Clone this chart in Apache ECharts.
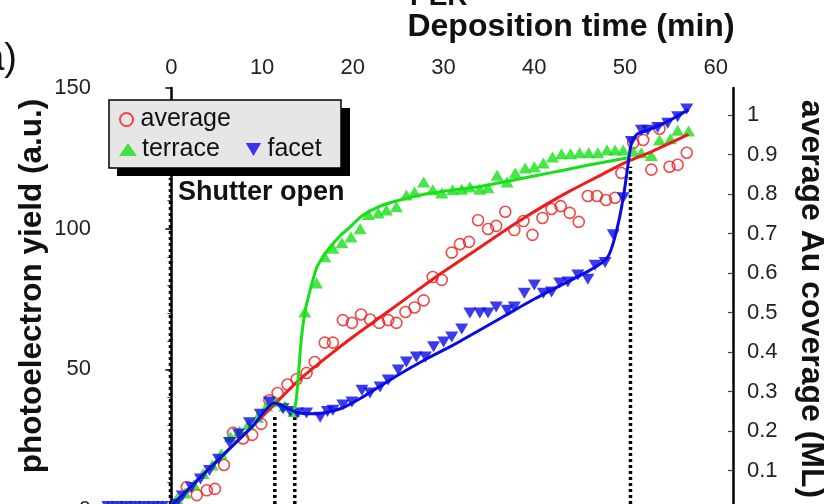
<!DOCTYPE html>
<html>
<head>
<meta charset="utf-8">
<script src="https://cdn.jsdelivr.net/npm/echarts@6/dist/echarts.min.js"></script>
<style>
  html, body { margin: 0; padding: 0; background: #fff; }
  #chart { width: 824px; height: 504px; }
</style>
</head>
<body>
<div id="chart"></div>
<script>
// ---- Measured series: deposition time (min) and photoelectron yield (a.u.) ----
const averageTime = [1.7, 2.8, 3.9, 4.8, 5.8, 6.8, 7.9, 8.9, 9.9, 10.8, 11.7, 12.8, 13.8, 14.9, 15.8, 16.9, 17.8, 18.9, 19.9, 20.9, 21.9, 22.9, 23.9, 24.8, 25.8, 26.8, 27.8, 28.8, 29.8, 30.9, 31.8, 32.8, 33.8, 34.9, 35.8, 36.8, 37.8, 38.8, 39.8, 40.9, 41.9, 42.9, 43.9, 44.9, 45.9, 46.9, 47.9, 48.9, 49.6, 50.9, 52.0, 52.9, 53.8, 54.9, 55.8, 56.8];
const averageYield = [8.2, 5.3, 7, 7.5, 16, 27.4, 25.4, 26.7, 30.6, 39, 41.6, 44.6, 46.5, 48.7, 52.6, 59.5, 59.5, 67.5, 66.5, 69.5, 67.7, 66.5, 67.5, 66.5, 70.4, 72, 74.5, 82.8, 81.8, 91.5, 94.5, 95.3, 103, 99.9, 101, 106, 99.5, 102.7, 97.8, 103.8, 107, 108, 105.6, 102.4, 111.6, 111.6, 110.2, 111, 119.8, 130.5, 131.5, 121, 135.5, 122, 122.7, 127];

const terraceTime = [-7, -6, -5, -4, -3, -2, -1, 0.6, 1.5, 2.5, 3.5, 4.5, 5.5, 6.5, 7.5, 8.5, 9.5, 10.5, 11.5, 12.5, 13.5, 14.7, 16, 16.9, 17.8, 18.8, 19.8, 20.8, 21.7, 22.8, 23.7, 24.8, 25.9, 26.8, 27.8, 28.8, 29.8, 31, 32, 32.9, 34, 34.9, 35.9, 37, 37.9, 39, 40, 41, 42, 43, 44, 45, 46, 47, 48, 48.9, 49.8, 50.9, 51.8, 52.9, 53.8, 55, 55.8, 57];
const terraceYield = [1.5, 1.5, 1.5, 1.5, 1.5, 1.5, 1.5, 4, 6, 9, 13, 16, 20, 26, 28, 30.5, 33, 37, 38.5, 37, 35, 70.4, 80.7, 90, 93, 95, 97, 100, 105, 105.6, 106.6, 107.8, 112, 113, 116.6, 113.8, 112.7, 113.8, 114, 114.8, 114, 114.5, 119, 116.6, 119.8, 121.6, 122, 123.3, 125.5, 126.6, 126.6, 127, 127, 127, 128, 128, 128, 127.5, 127, 126, 131.5, 132, 135, 134.7];

const facetTime = [-7, -6, -5, -4, -3, -2, -1, 0.5, 1.2, 2.2, 3.2, 4.2, 5.2, 6.4, 7.4, 8.6, 9.8, 10.8, 12.3, 13.1, 13.9, 14.9, 16.4, 17.2, 17.8, 18.9, 19.9, 21, 21.9, 23, 23.9, 25, 25.9, 27, 28, 28.9, 30, 30.9, 32, 32.9, 34, 34.9, 35.8, 37, 37.8, 38.9, 40, 41, 41.9, 42.8, 43.7, 44.8, 45.9, 46.7, 47.8, 48.7, 49.8, 50.7, 51.8, 52.5, 53.6, 54.7, 55.8, 56.8];
const facetYield = [1.2, 1.2, 1.2, 1.2, 1.2, 1.2, 1.2, 2, 5, 8, 11, 14, 18, 24, 27, 31, 34, 38.4, 36, 35, 34.5, 34.5, 33, 35, 35.5, 37.3, 38.4, 42.6, 41.6, 43.7, 46.2, 49.8, 52.6, 54.4, 54.4, 58, 59.7, 61.5, 64.3, 70, 70, 70, 72.2, 71, 72.2, 77, 80, 77, 77.5, 80.7, 81, 83.5, 82, 87, 88, 97.8, 111, 131, 135, 135, 136, 137.5, 139.8, 142.5];

// ---- Fitted curves ----
const averageFitTime = [0, 3, 6, 9, 11.5, 14, 17, 20, 23, 26, 29, 32, 35, 38, 41, 44, 47, 50, 53, 57];
const averageFitYield = [1.5, 11, 20.5, 30, 38, 46, 54, 61.5, 68.5, 75.5, 82.5, 89, 95.5, 102, 108, 113.5, 118.5, 123.5, 127.5, 133.5];

const terraceFitTime = [0, 3, 6, 9, 11.5, 12.5, 13.3, 13.7, 14.0, 14.3, 14.7, 15.2, 16, 16.7, 17.5, 18.6, 19.5, 21, 23, 25, 28, 31, 34, 38, 42, 46, 50.5];
const terraceFitYield = [1.5, 11, 20.5, 30, 38, 37, 35, 38, 48, 60, 70, 77, 86, 90, 93.5, 97.5, 100, 104.5, 108, 110, 112.3, 113.7, 115, 117.5, 120, 122.6, 125.3];

const facetFitTime = [0, 3, 6, 9, 11.3, 12.3, 13.3, 14.5, 16, 17.5, 19, 21, 23, 25, 28, 31, 34, 37, 40, 43, 46, 47.5, 48.2, 48.8, 49.4, 49.9, 50.3, 50.7, 51.3, 52.5, 54, 55.5, 57];
const facetFitYield = [1.5, 11, 20.5, 30, 38, 37, 35.3, 34.3, 34.2, 35, 36.5, 40, 44, 48, 53.5, 58.5, 64, 69.5, 75, 80, 85, 88, 90.5, 96, 104, 113, 122, 130.5, 133.5, 135, 137, 139.5, 142.3];

// ---- Vertical guide markers: time (min) and the yield they reach ----
const guideTime = [-0.1, 11.4, 13.6, 50.6];
const guideTop = [118, 34, 33, 122];

// ---- Axes ----
const timeMin = -8.2, timeMax = 61.9;
const timeLabels = [0, 10, 20, 30, 40, 50, 60];
const timeTicks = [-5, 0, 5, 10, 15, 20, 25, 30, 35, 40, 45, 50, 55, 60];
const yieldMax = 150;
const yieldPerMonolayer = 140.4;   // yield corresponding to 1 ML of Au

const FONT = '"Liberation Sans", Arial, Helvetica, sans-serif';
const RED = '#f01c1c', GREEN = '#16e016', BLUE = '#0a0ae8';
const DOWN_TRIANGLE = 'path://M0,0L20,0L10,17Z';

const pairs = (xs, ys) => xs.map((x, i) => [x, ys[i]]);

const chart = echarts.init(document.getElementById('chart'), null, { renderer: 'canvas' });

const guideSeries = guideTime.map((t, i) => ({
  type: 'line',
  data: [[t, 0], [t, guideTop[i]]],
  showSymbol: false,
  silent: true,
  z: 1,
  lineStyle: { color: '#000', width: 3.5, type: [3, 3] }
}));

chart.setOption({
  animation: false,
  backgroundColor: '#fff',
  textStyle: { fontFamily: FONT },
  grid: { left: 97, right: 91, top: 88, bottom: -6, containLabel: false, outerBoundsMode: 'none' },
  xAxis: {
    type: 'value', position: 'top', min: timeMin, max: timeMax,
    axisLine: { lineStyle: { color: '#000', width: 2.5 } },
    axisTick: { customValues: timeTicks, inside: true, length: 6, lineStyle: { color: '#000', width: 1.5 } },
    axisLabel: { customValues: timeLabels, fontSize: 22, color: '#222', margin: 9, fontFamily: FONT },
    splitLine: { show: false }
  },
  yAxis: [
    {
      type: 'value', position: 'left', min: 0, max: yieldMax, interval: 50,
      axisLine: { show: true, lineStyle: { color: '#000', width: 2.5 } },
      axisTick: { show: true, length: 6, lineStyle: { color: '#000', width: 1.5 } },
      minorTick: { show: true, splitNumber: 5, length: 4, lineStyle: { color: '#444', width: 1 } },
      axisLabel: { fontSize: 22, color: '#222', margin: 6, fontFamily: FONT },
      splitLine: { show: false }
    },
    {
      type: 'value', position: 'right', min: 0, max: yieldMax / yieldPerMonolayer, interval: 0.1,
      axisLine: { show: true, lineStyle: { color: '#000', width: 2.5 } },
      axisTick: { show: true, inside: true, length: 5, lineStyle: { color: '#444', width: 1.2 } },
      axisLabel: {
        fontSize: 22, color: '#222', margin: 14, fontFamily: FONT,
        showMinLabel: false, showMaxLabel: false,
        formatter: v => String(Math.round(v * 10) / 10)
      },
      splitLine: { show: false }
    }
  ],
  legend: [
    {
      data: ['average'], left: 119, top: 107, padding: 0, selectedMode: false,
      itemWidth: 18, itemHeight: 13, z: 10,
      textStyle: { fontSize: 25, color: '#111', fontFamily: FONT }
    },
    {
      data: ['terrace', 'facet'], left: 119, top: 137, padding: 0, selectedMode: false,
      itemWidth: 18, itemHeight: 13, itemGap: 26, z: 10,
      textStyle: { fontSize: 25, color: '#111', fontFamily: FONT }
    }
  ],
  graphic: [
    { type: 'rect', z: 5, shape: { x: 117, y: 108, width: 233, height: 68 }, style: { fill: '#000' } },
    { type: 'rect', z: 6, shape: { x: 109, y: 100, width: 232, height: 68 }, style: { fill: '#e6e6e6', stroke: '#000', lineWidth: 1.5 } },
    { type: 'text', z: 6, x: 178, y: 193, style: { text: 'Shutter open', font: 'bold 27px ' + FONT, fill: '#111', verticalAlign: 'middle' } },
    { type: 'text', z: 6, x: 571, y: 27, style: { text: 'Deposition time (min)', font: 'bold 32px ' + FONT, fill: '#111', align: 'center', verticalAlign: 'middle' } },
    { type: 'text', z: 6, x: 410, y: -3, style: { text: 'PER', font: 'bold 28px ' + FONT, fill: '#111', verticalAlign: 'middle' } },
    { type: 'text', z: 6, x: 17, y: 60, style: { text: '(a)', font: '38px ' + FONT, fill: '#111', align: 'right', verticalAlign: 'middle' } },
    { type: 'text', z: 6, x: 32, y: 286, rotation: Math.PI / 2, style: { text: 'photoelectron yield (a.u.)', font: 'bold 31.5px ' + FONT, fill: '#111', align: 'center', verticalAlign: 'middle' } },
    { type: 'text', z: 6, x: 811, y: 299, rotation: -Math.PI / 2, style: { text: 'average Au coverage (ML)', font: 'bold 32px ' + FONT, fill: '#111', align: 'center', verticalAlign: 'middle' } }
  ],
  series: [
    ...guideSeries,
    {
      name: 'average', type: 'scatter', data: pairs(averageTime, averageYield),
      symbol: 'circle', symbolSize: 11, z: 3,
      itemStyle: { color: 'rgba(255,255,255,0)', borderColor: RED, borderWidth: 1.6 }
    },
    {
      name: 'terrace', type: 'scatter', data: pairs(terraceTime, terraceYield),
      symbol: 'triangle', symbolSize: [13, 11], z: 3,
      itemStyle: { color: GREEN }
    },
    {
      name: 'facet', type: 'scatter', data: pairs(facetTime, facetYield),
      symbol: DOWN_TRIANGLE, symbolSize: [13, 11], z: 3,
      itemStyle: { color: BLUE }
    },
    {
      name: 'average fit', type: 'line', data: pairs(averageFitTime, averageFitYield),
      showSymbol: false, smooth: 0.3, z: 4, lineStyle: { color: RED, width: 3 }
    },
    {
      name: 'terrace fit', type: 'line', data: pairs(terraceFitTime, terraceFitYield),
      showSymbol: false, smooth: 0.3, z: 4, lineStyle: { color: GREEN, width: 3 }
    },
    {
      name: 'facet fit', type: 'line', data: pairs(facetFitTime, facetFitYield),
      showSymbol: false, smooth: 0.2, z: 5, lineStyle: { color: BLUE, width: 3 }
    }
  ]
});
</script>
</body>
</html>
